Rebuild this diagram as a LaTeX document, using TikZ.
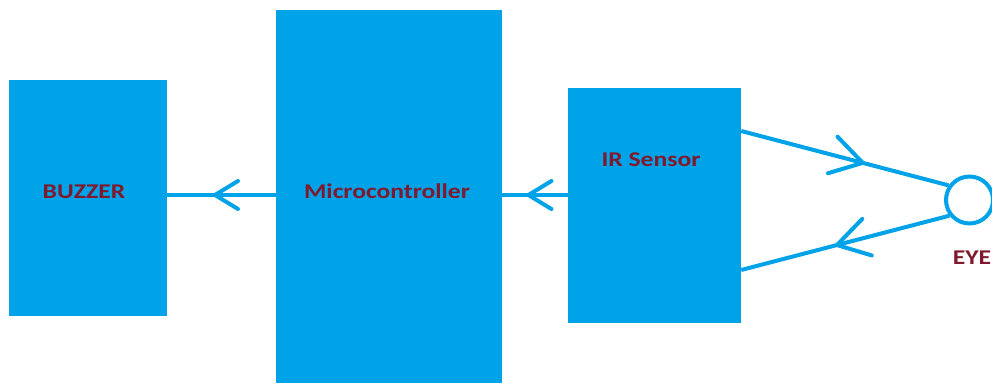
\documentclass[tikz,border=0pt]{standalone}
\usepackage{fontspec}
\setmainfont{Carlito}
\definecolor{pblue}{HTML}{00A2E8}
\definecolor{pred}{HTML}{7F1A2E}
\tikzset{
  pics/chev/.style={code={\draw[draw=pblue,line width=4pt,line cap=round,line join=round,scale=#1] (-23,14) -- (0,0) -- (-23,-14);}},
  pics/chev/.default=1
}
\begin{document}
\begin{tikzpicture}[x=1pt,y=1pt,
  blk/.style={fill=pblue,draw=none,inner sep=0pt,anchor=center},
  lbl/.style={text=pred,font=\bfseries\fontsize{21}{23}\selectfont,inner sep=0pt,xscale=1.22},
  conn/.style={draw=pblue,line width=4pt}]
\useasboundingbox (0,0) rectangle (992,383);
% boxes
\node[blk,minimum width=158pt,minimum height=236pt] (buzzer) at (88,185) {};
\node[blk,minimum width=226pt,minimum height=373pt] (micro) at (389,186.5) {};
\node[blk,minimum width=173pt,minimum height=235pt] (ir) at (654.5,177.5) {};
\node[draw=pblue,line width=4pt,circle,minimum size=47pt,inner sep=0pt] (eye) at (969.5,183) {};
% labels
\node[lbl] (tbuzzer) at (84,191) {BUZZER};
\node[lbl] (tmicro) at (387,192) {Microcontroller};
\node[lbl] (tir) at (651,223) {IR Sensor};
\node[lbl] (teye) at (972,125) {EYE};
% connector end points
\coordinate (mW) at (micro.west |- 0,188);
\coordinate (bE) at (buzzer.east |- 0,188);
\coordinate (iW) at (ir.west |- 0,188);
\coordinate (mE) at (micro.east |- 0,188);
\coordinate (irT) at (ir.east |- 0,252);
\coordinate (irB) at (ir.east |- 0,113);
% connectors
\draw[conn] (mW) -- (bE) pic[pos=0.56,sloped,allow upside down]{chev=1};
\draw[conn] (iW) -- (mE) pic[pos=0.6,sloped,allow upside down]{chev=1};
\draw[conn] (irT) -- (eye.145) pic[pos=0.586,sloped,allow upside down]{chev=1.35};
\draw[conn] (eye.218) -- (irB) pic[pos=0.54,sloped,allow upside down]{chev=1.35};
\end{tikzpicture}
\end{document}
